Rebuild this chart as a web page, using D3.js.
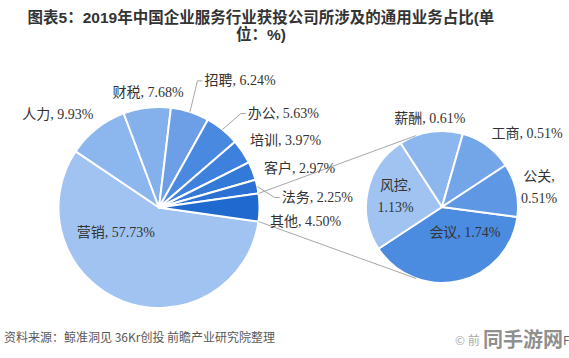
<!DOCTYPE html>
<html><head><meta charset="utf-8">
<script src="https://cdn.jsdelivr.net/npm/d3@7"></script>
<style>body{margin:0;background:#fff}svg{display:block}</style>
</head><body><svg id="c" width="569" height="358"></svg>
<script>
// ---- data ----
const mainCats = ["营销","人力","财税","招聘","办公","培训","客户","法务","其他"];
const mainVals = [57.73, 9.93, 7.68, 6.24, 5.63, 3.97, 2.97, 2.25, 4.50];
const subCats  = ["会议","风控","薪酬","工商","公关"];
const subVals  = [1.74, 1.13, 0.61, 0.51, 0.51];
const titleLines = ["图表5：2019年中国企业服务行业获投公司所涉及的通用业务占比(单", "位：%)"];
const sourceText = "资料来源：鲸准洞见 36Kr创投 前瞻产业研究院整理";

// ---- styling / layout ----
const mainColors = ["#a1c3f2","#8cb6ee","#84b0ec","#6c9fe5","#4a89e0","#3e81dc","#3379d7","#2a71d3","#1f69cf"];
const subColors  = ["#4b8be0","#a1c3f2","#8cb7ee","#73a6e9","#5e98e4"];
const L = {cx:159, cy:207.5, r:100.5};
const R = {cx:442, cy:207, r:76};
const subStartDeg = 97.5;
// label nudges relative to outer arc point at slice mid-angle
const mainNudge = {"营销":[-7,-69],"人力":[-39,-15],"财税":[1,-16],"招聘":[50,-32],"办公":[61,-17],"培训":[43,-12],"客户":[47,-3],"法务":[60,10],"其他":[46,13]};
const subNudge  = {"会议":[6,-49],"风控":[28,5],"薪酬":[-1,-14],"工商":[40,-13],"公关":[23,-3]};
const leaderCats = ["招聘","办公","法务"];
const twoLine = ["风控","公关"];

const svg = d3.select("#c");
const fontLbl = "'Liberation Serif','Times New Roman','Noto Sans CJK SC',serif";
const fontCJK = "'Noto Sans CJK SC','Liberation Sans',sans-serif";
const rad = d => d*Math.PI/180;

// ---- title ----
svg.append("g").selectAll("text").data(titleLines).join("text")
  .attr("x", 261).attr("y", (d,i)=>22.5 + i*17.5)
  .attr("text-anchor","middle")
  .attr("font-family","'Liberation Sans','Noto Sans CJK SC',sans-serif")
  .attr("font-weight","bold").attr("font-size",15.5).attr("fill","#333")
  .text(d=>d);

// ---- main pie ----
const mainTotal = d3.sum(mainVals);
const otherIdx = mainCats.indexOf("其他");
const mainStart = Math.PI/2 + (mainVals[otherIdx]/2)/mainTotal*2*Math.PI;
const mainPie = d3.pie().sort(null).startAngle(mainStart).endAngle(mainStart+2*Math.PI);
const mainArcs = mainPie(mainVals).map((a,i)=>({...a, cat:mainCats[i], color:mainColors[i]}));
const arcL = d3.arc().innerRadius(0).outerRadius(L.r);

const gL = svg.append("g").attr("transform",`translate(${L.cx},${L.cy})`);
gL.selectAll("path").data(mainArcs).join("path")
  .attr("d", arcL).attr("fill", d=>d.color)
  .attr("stroke","#fff").attr("stroke-width",2).attr("stroke-linejoin","round");

// ---- sub pie ----
const subStart = rad(subStartDeg);
const subPie = d3.pie().sort(null).startAngle(subStart).endAngle(subStart+2*Math.PI);
const subArcs = subPie(subVals).map((a,i)=>({...a, cat:subCats[i], color:subColors[i]}));
const arcR = d3.arc().innerRadius(0).outerRadius(R.r);
const gR = svg.append("g").attr("transform",`translate(${R.cx},${R.cy})`);
gR.selectAll("path").data(subArcs).join("path")
  .attr("d", arcR).attr("fill", d=>d.color)
  .attr("stroke","#fff").attr("stroke-width",2).attr("stroke-linejoin","round");

// ---- connector lines (tangents from 其他 arc ends to the sub pie) ----
const oth = mainArcs[otherIdx];
function polar(c, r, a){ return [c.cx + r*Math.sin(a), c.cy - r*Math.cos(a)]; }
function tangent(P, upper){
  const dx = R.cx-P[0], dy = R.cy-P[1];
  const d = Math.hypot(dx,dy), phi = Math.atan2(dy,dx), al = Math.asin(R.r/d);
  const len = Math.sqrt(d*d - R.r*R.r), ang = upper ? phi-al : phi+al;
  return [P, [P[0]+len*Math.cos(ang), P[1]+len*Math.sin(ang)]];
}
const conns = [tangent(polar(L, L.r, oth.startAngle), true), tangent(polar(L, L.r, oth.endAngle), false)];
svg.append("g").selectAll("line").data(conns).join("line")
  .attr("x1",d=>d[0][0]).attr("y1",d=>d[0][1]).attr("x2",d=>d[1][0]).attr("y2",d=>d[1][1])
  .attr("stroke","#a6a6a6").attr("stroke-width",1);

// ---- labels ----
const fmt = v => d3.format(".2f")(v) + "%";
function placeLabels(arcs, c, nudge){
  return arcs.map(a=>{
    const mid = (a.startAngle+a.endAngle)/2;
    const p = polar(c, c.r, mid);
    const n = nudge[a.cat];
    return {...a, anchor:p, x:p[0]+n[0], y:p[1]+n[1]};
  });
}
const labL = placeLabels(mainArcs, L, mainNudge);
const labR = placeLabels(subArcs, R, subNudge);
const allLab = labL.concat(labR);

const gT = svg.append("g").attr("font-family",fontLbl).attr("font-size",14).attr("fill","#333");
allLab.forEach(d=>{
  const t = gT.append("text").attr("text-anchor","middle");
  if (twoLine.includes(d.cat)) {
    t.append("tspan").attr("x",d.x).attr("y",d.y-11+5).text(d.cat+",");
    t.append("tspan").attr("x",d.x).attr("y",d.y+11+5).text(fmt(d.data));
  } else {
    t.attr("x",d.x).attr("y",d.y+5).text(d.cat+", "+fmt(d.data));
  }
  d.node = t.node();
});

// leader lines
const gLd = svg.append("g");
labL.filter(d=>leaderCats.includes(d.cat)).forEach(d=>{
  const bb = d.node.getBBox();
  const left = bb.x;
  const pts = [d.anchor, [left-7, d.y+1], [left-2, d.y+1]];
  gLd.append("path").attr("d", d3.line()(pts))
    .attr("fill","none").attr("stroke","#a6a6a6").attr("stroke-width",1);
});

// ---- footer ----
svg.append("text").attr("x",4).attr("y",342)
  .attr("font-family",fontCJK).attr("font-size",12).attr("fill","#595959")
  .text(sourceText);
svg.append("text").attr("x",455).attr("y",345)
  .attr("font-family",fontCJK).attr("font-size",12).attr("fill","#aaa").text("© 前");
svg.append("text").attr("x",483).attr("y",347)
  .attr("font-family",fontCJK).attr("font-weight","bold").attr("font-size",20).attr("fill","#8f8f8f").text("同手游网");
svg.append("text").attr("x",563).attr("y",345)
  .attr("font-family",fontCJK).attr("font-size",12).attr("fill","#666").text("F");
</script></body></html>
